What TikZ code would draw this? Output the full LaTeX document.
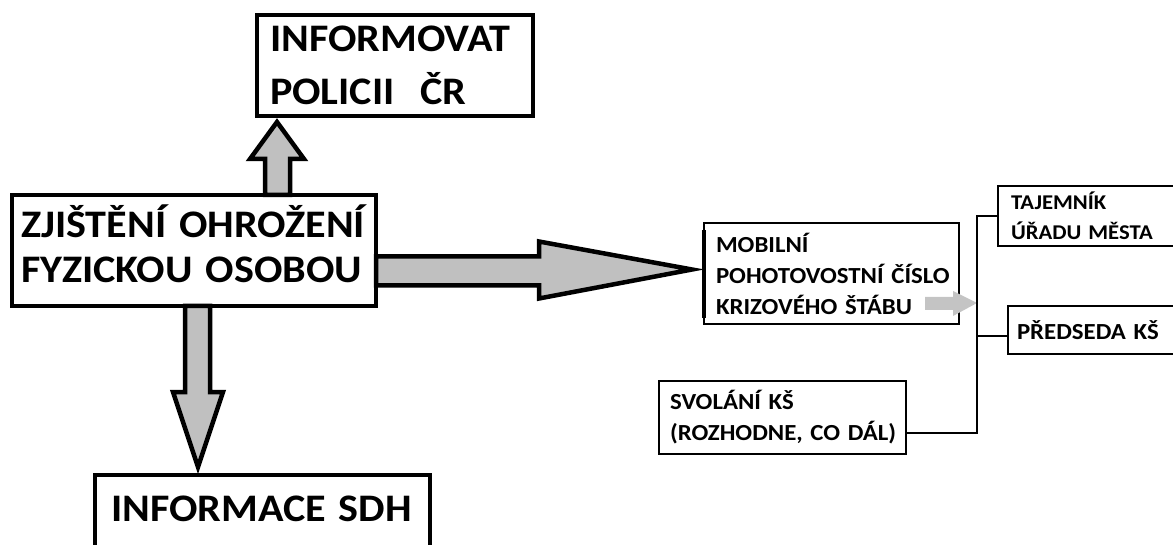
\documentclass[tikz,border=0pt]{standalone}
\usepackage{fontspec}
\setmainfont{Carlito}[FakeStretch=1.08,WordSpace=0.7]
\usetikzlibrary{calc}
\definecolor{arrowgray}{HTML}{C0C0C0}
\definecolor{tipgray}{HTML}{C4C4C4}
\tikzset{
  bigbox/.style={draw,line width=4.5pt,outer sep=0pt,inner ysep=0pt,anchor=north west,align=left,
    font=\fontsize{39}{45}\selectfont\bfseries},
  smallbox/.style={draw,line width=2pt,outer sep=0pt,inner ysep=0pt,anchor=north west,align=left,
    font=\fontsize{23}{31}\selectfont\bfseries},
  blockarrow/.style={draw,fill=arrowgray,line width=4.5pt},
  busline/.style={draw,line width=2pt},
}

\begin{document}
\begin{tikzpicture}[x=1pt,y=-1pt]
\useasboundingbox (0,0) rectangle (1173,545);
\clip (0,0) rectangle (1173,545);

% left part
\node[bigbox,minimum width=276pt,minimum height=101pt,text width=250pt,inner xsep=13pt,font=\fontsize{39}{53}\selectfont\bfseries] (police) at (257,15) {\mbox{INFORMOVAT}\\\mbox{POLICII~~ČR}};
\node[bigbox,minimum width=364pt,minimum height=111pt,text width=346pt,inner xsep=9pt] (main) at (12,195) {\mbox{ZJIŠTĚNÍ OHROŽENÍ}\\\mbox{FYZICKOU OSOBOU\rule[-13pt]{0pt}{13pt}}};
\node[bigbox,minimum width=335pt,minimum height=80pt,text width=303pt,inner xsep=16pt] (sdh) at (95,475) {\raisebox{12pt}{INFORMACE SDH}};

\draw[blockarrow] (main.north -| police.west) ++(8,0) -- ++(0,-36) -- ++(-15,0) -- ++(27,-37) -- ++(27,37) -- ++(-14,0) -- ++(0,36) -- cycle;
\draw[blockarrow] (main.south) ++(-9,0) -- ++(0,86) -- ++(-12,0) -- ++(25,75) -- ++(25,-75) -- ++(-13,0) -- ++(0,-86) -- cycle;
\draw[blockarrow] (main.east) ++(0,6) -- ++(163,0) -- ++(0,-15) -- ++(153,28) -- ++(-153,29) -- ++(0,-13) -- ++(-163,0) -- cycle;

% right part
\node[smallbox,minimum width=255pt,minimum height=101pt,text width=231pt,inner xsep=12pt] (mobile) at (704,223) {\mbox{MOBILNÍ}\\\mbox{POHOTOVOSTNÍ ČÍSLO}\\\mbox{KRIZOVÉHO ŠTÁBU}};
\node[smallbox,minimum width=247pt,minimum height=73pt,text width=225pt,inner xsep=11pt] (svolani) at (659,381) {\mbox{SVOLÁNÍ KŠ}\\\mbox{(ROZHODNE, CO DÁL)}};
\node[smallbox,minimum width=190pt,minimum height=60pt,text width=164pt,inner xsep=13pt,font=\fontsize{21}{30}\selectfont\bfseries] (tajemnik) at (998,186) {\mbox{TAJEMNÍK}\\\mbox{ÚŘADU MĚSTA}};
\node[smallbox,minimum width=180pt,minimum height=48pt,text width=162pt,inner xsep=9pt] (predseda) at (1008,306) {\mbox{PŘEDSEDA KŠ}};

\draw[line width=4.5pt] ($(mobile.north west)+(0,7)$) -- ($(mobile.south west)+(0,-6)$);

\coordinate (bus) at (977,303);
\coordinate (predin) at ($(predseda.west)+(0,6)$);
\fill[tipgray] (bus) -- ++(-24,-12) -- ++(0,6) -- ++(-28,0) -- ++(0,13) -- ++(28,0) -- ++(0,6) -- cycle;
\draw[busline] (tajemnik.west) -| (bus) |- ($(svolani.east)+(0,15)$);
\draw[busline] (predin) -- (predin -| bus);

\end{tikzpicture}
\end{document}
